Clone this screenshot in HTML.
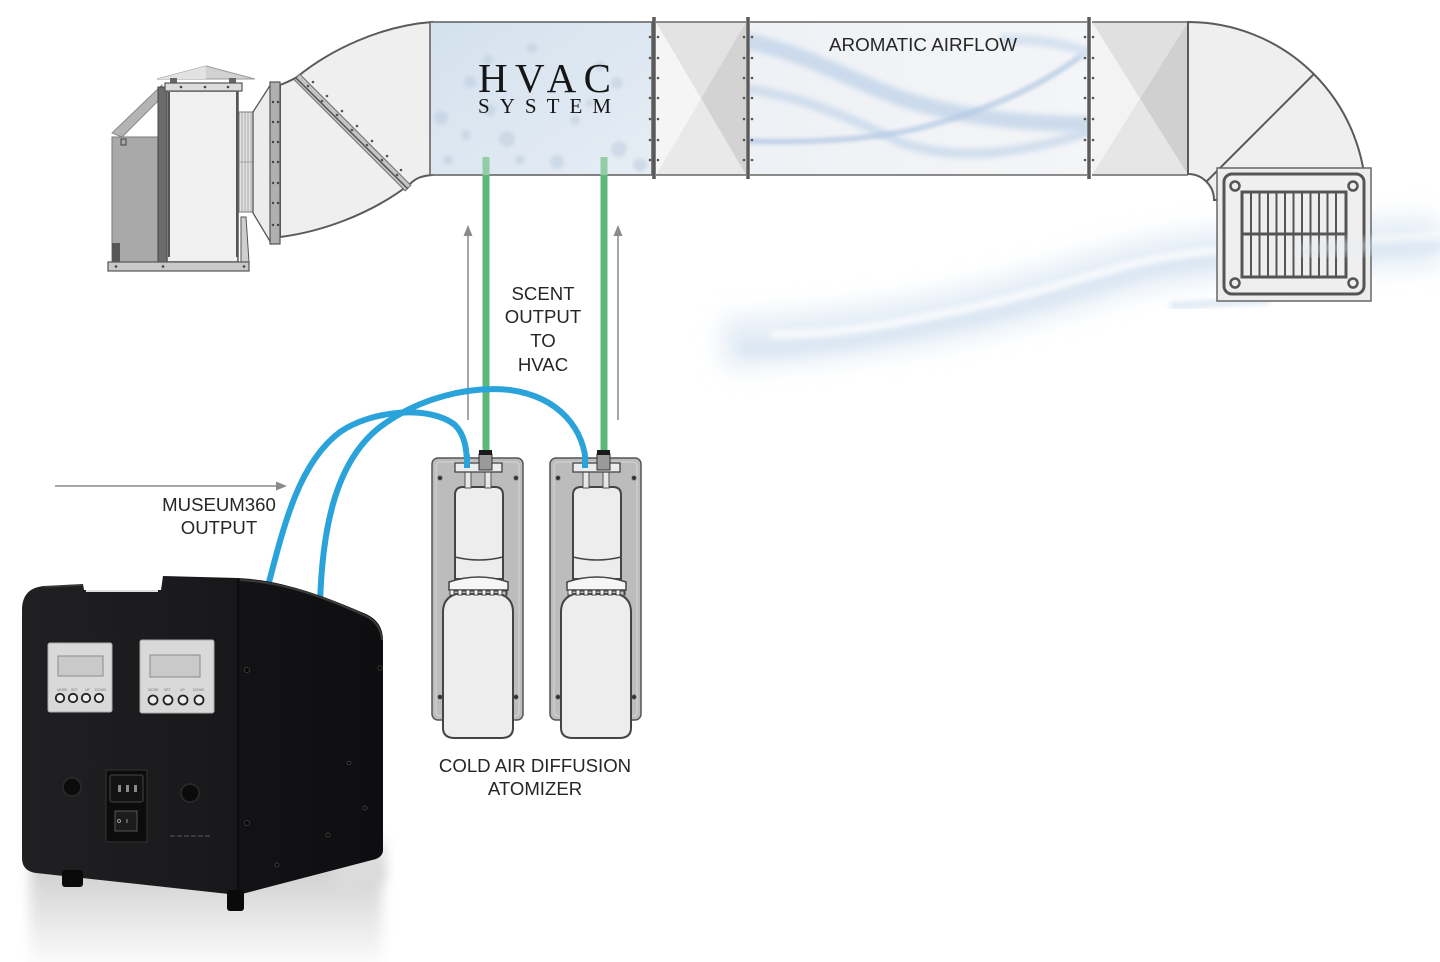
<!DOCTYPE html>
<html><head><meta charset="utf-8">
<style>
html,body{margin:0;padding:0;background:#fff;width:1440px;height:962px;overflow:hidden}
svg{display:block}
.lbl{font-family:"Liberation Sans",sans-serif;font-size:18.6px;fill:#262626}
</style></head><body>
<svg width="1440" height="962" viewBox="0 0 1440 962" xmlns="http://www.w3.org/2000/svg">
<defs>
 <filter id="b1" x="-10%" y="-10%" width="120%" height="120%"><feGaussianBlur stdDeviation="1.5"/></filter>
 <filter id="b3" x="-20%" y="-50%" width="140%" height="200%"><feGaussianBlur stdDeviation="3"/></filter>
 <filter id="b5" x="-20%" y="-100%" width="140%" height="300%"><feGaussianBlur stdDeviation="5"/></filter>
 <filter id="b12" x="-30%" y="-150%" width="160%" height="400%"><feGaussianBlur stdDeviation="12"/></filter>
 <filter id="b6" x="-20%" y="-30%" width="140%" height="160%"><feGaussianBlur stdDeviation="6"/></filter>
 <linearGradient id="hv" x1="0" y1="0" x2="1" y2="1"><stop offset="0" stop-color="#d3e1ee"/><stop offset="1" stop-color="#e6edf4"/></linearGradient>
 <linearGradient id="ar" x1="0" y1="0" x2="1" y2="0"><stop offset="0" stop-color="#eef1f5"/><stop offset="1" stop-color="#f4f5f7"/></linearGradient>
 <linearGradient id="front" x1="0" y1="0" x2="1" y2="0"><stop offset="0" stop-color="#202022"/><stop offset="1" stop-color="#18181a"/></linearGradient>
 <linearGradient id="side" x1="0" y1="0" x2="1" y2="0"><stop offset="0" stop-color="#131315"/><stop offset="1" stop-color="#0e0e10"/></linearGradient>
 <linearGradient id="refl" x1="0" y1="0" x2="0" y2="1"><stop offset="0" stop-color="#cdcdcd"/><stop offset="0.5" stop-color="#e6e6e6"/><stop offset="1" stop-color="#ffffff"/></linearGradient>
 <clipPath id="hvc"><rect x="430" y="22" width="222" height="153"/></clipPath>
 <clipPath id="arc"><rect x="750" y="22" width="337" height="153"/></clipPath>
</defs>

<!-- big aromatic wisp below grille -->
<g>
 <path d="M722,343 C800,340 870,330 930,320 C1020,303 1080,282 1130,268 C1200,252 1300,246 1440,242" fill="none" stroke="#e4edf6" stroke-width="50" filter="url(#b12)"/>
 <path d="M740,350 C820,350 880,336 940,325 C1030,308 1090,286 1140,272 C1210,256 1320,250 1440,246" fill="none" stroke="#d3e2f0" stroke-width="14" filter="url(#b5)" opacity="0.6"/>
 <path d="M770,334 C840,336 900,322 960,310 C1040,294 1100,270 1160,258 C1230,246 1330,242 1440,236" fill="none" stroke="#ffffff" stroke-width="7" filter="url(#b3)" opacity="0.8"/>
 <path d="M1170,306 C1200,304 1240,302 1270,300" fill="none" stroke="#dde8f2" stroke-width="7" filter="url(#b3)"/>
</g>

<!-- ===== LEFT UNIT ===== -->
<polygon points="157,79 206,66 255,79" fill="#d2d2d2" stroke="#999" stroke-width="1"/>
<polygon points="157,79 206,66 206,79" fill="#e2e2e2"/>
<rect x="170" y="78" width="7" height="6" fill="#666"/>
<rect x="229" y="78" width="7" height="6" fill="#666"/>
<polygon points="112,133 162,85 162,97 122,137" fill="#b4b4b4" stroke="#8a8a8a" stroke-width="1"/>
<rect x="112" y="137" width="47" height="125" fill="#a9a9a9" stroke="#7a7a7a" stroke-width="1"/>
<rect x="112" y="243" width="8" height="19" fill="#575757"/>
<rect x="121" y="139" width="5" height="6" fill="none" stroke="#444" stroke-width="1"/>
<rect x="158" y="87" width="9" height="175" fill="#6b6b6b" stroke="#444" stroke-width="1"/>
<rect x="167" y="91" width="71" height="171" fill="#f0f0f0" stroke="#555" stroke-width="1.5"/>
<line x1="169" y1="92" x2="169" y2="257" stroke="#555" stroke-width="2"/>
<line x1="237" y1="92" x2="237" y2="257" stroke="#555" stroke-width="2"/>
<rect x="165" y="83" width="77" height="8" fill="#dcdcdc" stroke="#555" stroke-width="1.2"/>
<circle cx="181" cy="87" r="1.3" fill="#444"/><circle cx="205" cy="87" r="1.3" fill="#444"/><circle cx="228" cy="87" r="1.3" fill="#444"/>
<polygon points="241,217 246,217 249,262 241,262" fill="#cfcfcf" stroke="#555" stroke-width="1"/>
<rect x="108" y="262" width="141" height="9" fill="#c9c9c9" stroke="#555" stroke-width="1.2"/>
<circle cx="116" cy="266.5" r="1.3" fill="#444"/><circle cx="163" cy="266.5" r="1.3" fill="#444"/><circle cx="244" cy="266.5" r="1.3" fill="#444"/>
<!-- bellows -->
<rect x="239" y="112" width="14" height="100" fill="#e3e3e3" stroke="#777" stroke-width="1"/>
<g stroke="#999" stroke-width="0.8"><line x1="242" y1="112" x2="242" y2="212"/><line x1="245" y1="112" x2="245" y2="212"/><line x1="248" y1="112" x2="248" y2="212"/><line x1="251" y1="112" x2="251" y2="212"/><line x1="239" y1="162" x2="253" y2="162"/></g>
<polygon points="253,112 271,84 271,243 253,213" fill="#ececec" stroke="#555" stroke-width="1.3"/>
<!-- left elbow -->
<path d="M280,85 C288,82 292,80 297,77 C330,50 380,26 432,22 L432,175 C420,176 415,179 410,184 C370,215 320,232 280,237 Z" fill="#efefef" stroke="#5a5a5a" stroke-width="2"/>
<polygon points="299.8,74.2 410.8,185.2 405.2,190.8 294.2,79.8" fill="#c4c4c4" stroke="#6a6a6a" stroke-width="1"/>
<line x1="296" y1="78" x2="408" y2="189" stroke="#555" stroke-width="1.5"/>
<g fill="#555">
<circle cx="308" cy="86" r="1.3"/><circle cx="322" cy="101" r="1.3"/><circle cx="337" cy="115" r="1.3"/><circle cx="352" cy="130" r="1.3"/><circle cx="367" cy="145" r="1.3"/><circle cx="382" cy="160" r="1.3"/><circle cx="397" cy="175" r="1.3"/>
<circle cx="313" cy="82" r="1.3"/><circle cx="327" cy="96" r="1.3"/><circle cx="342" cy="111" r="1.3"/><circle cx="357" cy="126" r="1.3"/><circle cx="372" cy="141" r="1.3"/><circle cx="387" cy="156" r="1.3"/><circle cx="401" cy="170" r="1.3"/>
</g>
<rect x="270" y="82" width="10" height="162" fill="#b0b0b0" stroke="#555" stroke-width="1.2"/>
<g fill="#444">
<circle cx="273" cy="102" r="1.2"/><circle cx="278" cy="102" r="1.2"/><circle cx="273" cy="122" r="1.2"/><circle cx="278" cy="122" r="1.2"/><circle cx="273" cy="142" r="1.2"/><circle cx="278" cy="142" r="1.2"/><circle cx="273" cy="162" r="1.2"/><circle cx="278" cy="162" r="1.2"/><circle cx="273" cy="183" r="1.2"/><circle cx="278" cy="183" r="1.2"/><circle cx="273" cy="203" r="1.2"/><circle cx="278" cy="203" r="1.2"/><circle cx="273" cy="225" r="1.2"/><circle cx="278" cy="225" r="1.2"/>
</g>

<!-- ===== HVAC SECTION ===== -->
<rect x="430" y="22" width="222" height="153" fill="url(#hv)"/>
<g clip-path="url(#hvc)" fill="#b7c7db" filter="url(#b1)" opacity="0.45">
 <circle cx="441" cy="118" r="7"/><circle cx="466" cy="135" r="5"/><circle cx="507" cy="139" r="8"/><circle cx="490" cy="110" r="6"/>
 <circle cx="557" cy="162" r="7"/><circle cx="619" cy="149" r="8"/><circle cx="617" cy="83" r="6"/><circle cx="600" cy="66" r="5"/>
 <circle cx="488" cy="60" r="5"/><circle cx="640" cy="165" r="7"/><circle cx="520" cy="160" r="5"/><circle cx="448" cy="160" r="5"/>
 <circle cx="532" cy="48" r="5"/><circle cx="575" cy="120" r="5"/><circle cx="470" cy="82" r="6"/><circle cx="590" cy="103" r="4"/>
</g>
<rect x="430" y="22" width="222" height="153" fill="none" stroke="#666" stroke-width="1.6"/>
<text x="478" y="92" font-family="'Liberation Serif',serif" font-size="41" fill="#161616" textLength="133" lengthAdjust="spacing">HVAC</text>
<text x="478" y="113" font-family="'Liberation Serif',serif" font-size="21" fill="#161616" textLength="133" lengthAdjust="spacing">SYSTEM</text>

<!-- ===== X PANEL 1 ===== -->
<polygon points="656,22 701,98.5 656,175" fill="#f5f5f5"/>
<polygon points="656,22 746,22 701,98.5" fill="#e3e3e3"/>
<polygon points="746,22 701,98.5 746,175" fill="#d3d3d3"/>
<polygon points="656,175 701,98.5 746,175" fill="#e9e9e9"/>
<line x1="656" y1="22" x2="746" y2="22" stroke="#666" stroke-width="1.6"/>
<line x1="656" y1="175" x2="746" y2="175" stroke="#666" stroke-width="1.6"/>

<!-- ===== AROMATIC SECTION ===== -->
<rect x="750" y="22" width="337" height="153" fill="url(#ar)"/>
<g clip-path="url(#arc)" fill="none">
 <path d="M740,40 C800,50 850,80 900,98 C960,118 1030,124 1095,124" stroke="#bcd0e8" stroke-width="16" filter="url(#b3)" opacity="0.7"/>
 <path d="M740,88 C800,95 850,118 900,142 C950,160 1010,158 1095,130" stroke="#c3d5ea" stroke-width="9" filter="url(#b3)" opacity="0.75"/>
 <path d="M740,141 C810,143 870,140 920,128 C980,112 1040,90 1095,45" stroke="#b2c9e4" stroke-width="6" filter="url(#b1)" opacity="0.7"/>
 <path d="M1000,40 C1040,38 1070,45 1095,55" stroke="#d6e2f0" stroke-width="10" filter="url(#b3)"/>
</g>
<line x1="750" y1="22" x2="1087" y2="22" stroke="#666" stroke-width="1.6"/>
<line x1="750" y1="175" x2="1087" y2="175" stroke="#666" stroke-width="1.6"/>
<text x="829" y="51" class="lbl" font-size="19" textLength="188" lengthAdjust="spacingAndGlyphs">AROMATIC AIRFLOW</text>

<!-- ===== X PANEL 2 ===== -->
<polygon points="1092,22 1140,98.5 1092,175" fill="#f3f3f3"/>
<polygon points="1092,22 1188,22 1140,98.5" fill="#e0e0e0"/>
<polygon points="1188,22 1140,98.5 1188,175" fill="#d0d0d0"/>
<polygon points="1092,175 1140,98.5 1188,175" fill="#e6e6e6"/>
<line x1="1092" y1="22" x2="1188" y2="22" stroke="#666" stroke-width="1.6"/>
<line x1="1092" y1="175" x2="1188" y2="175" stroke="#666" stroke-width="1.6"/>

<!-- ===== RIGHT ELBOW ===== -->
<path d="M1188,22 A178,178 0 0 1 1366,200 L1214,200 A26,26 0 0 0 1188,174 Z" fill="#efefef" stroke="#5a5a5a" stroke-width="2"/>
<line x1="1188" y1="22" x2="1188" y2="175" stroke="#5a5a5a" stroke-width="2"/>
<line x1="1206" y1="182" x2="1314" y2="74" stroke="#5a5a5a" stroke-width="2"/>

<!-- flanges -->
<g>
 <line x1="654" y1="17" x2="654" y2="179" stroke="#5a5a5a" stroke-width="3.5"/>
 <line x1="748" y1="17" x2="748" y2="179" stroke="#5a5a5a" stroke-width="3.5"/>
 <line x1="1089" y1="17" x2="1089" y2="179" stroke="#5a5a5a" stroke-width="3.5"/>
 <g fill="#555">
  <circle cx="650" cy="37" r="1.3"/><circle cx="658" cy="37" r="1.3"/><circle cx="650" cy="58" r="1.3"/><circle cx="658" cy="58" r="1.3"/><circle cx="650" cy="78" r="1.3"/><circle cx="658" cy="78" r="1.3"/><circle cx="650" cy="98" r="1.3"/><circle cx="658" cy="98" r="1.3"/><circle cx="650" cy="119" r="1.3"/><circle cx="658" cy="119" r="1.3"/><circle cx="650" cy="140" r="1.3"/><circle cx="658" cy="140" r="1.3"/><circle cx="650" cy="160" r="1.3"/><circle cx="658" cy="160" r="1.3"/>
  <circle cx="744" cy="37" r="1.3"/><circle cx="752" cy="37" r="1.3"/><circle cx="744" cy="58" r="1.3"/><circle cx="752" cy="58" r="1.3"/><circle cx="744" cy="78" r="1.3"/><circle cx="752" cy="78" r="1.3"/><circle cx="744" cy="98" r="1.3"/><circle cx="752" cy="98" r="1.3"/><circle cx="744" cy="119" r="1.3"/><circle cx="752" cy="119" r="1.3"/><circle cx="744" cy="140" r="1.3"/><circle cx="752" cy="140" r="1.3"/><circle cx="744" cy="160" r="1.3"/><circle cx="752" cy="160" r="1.3"/>
  <circle cx="1085" cy="37" r="1.3"/><circle cx="1093" cy="37" r="1.3"/><circle cx="1085" cy="58" r="1.3"/><circle cx="1093" cy="58" r="1.3"/><circle cx="1085" cy="78" r="1.3"/><circle cx="1093" cy="78" r="1.3"/><circle cx="1085" cy="98" r="1.3"/><circle cx="1093" cy="98" r="1.3"/><circle cx="1085" cy="119" r="1.3"/><circle cx="1093" cy="119" r="1.3"/><circle cx="1085" cy="140" r="1.3"/><circle cx="1093" cy="140" r="1.3"/><circle cx="1085" cy="160" r="1.3"/><circle cx="1093" cy="160" r="1.3"/>
 </g>
</g>

<!-- ===== GRILLE ===== -->
<rect x="1217" y="168" width="154" height="133" fill="#ededed" stroke="#666" stroke-width="1.5"/>
<rect x="1224" y="174" width="140" height="120" rx="8" fill="#efefef" stroke="#555" stroke-width="3"/>
<g fill="none" stroke="#555" stroke-width="2.5">
 <circle cx="1235" cy="186" r="4.5"/><circle cx="1353" cy="186" r="4.5"/><circle cx="1235" cy="283" r="4.5"/><circle cx="1353" cy="283" r="4.5"/>
</g>
<rect x="1242" y="192" width="104" height="85" fill="#eeeeee" stroke="#555" stroke-width="3"/>
<line x1="1242" y1="234" x2="1346" y2="234" stroke="#555" stroke-width="3"/>
<g stroke="#555" stroke-width="2">
 <line x1="1251" y1="193" x2="1251" y2="233"/><line x1="1259.5" y1="193" x2="1259.5" y2="233"/><line x1="1268" y1="193" x2="1268" y2="233"/><line x1="1276.5" y1="193" x2="1276.5" y2="233"/><line x1="1285" y1="193" x2="1285" y2="233"/><line x1="1293.5" y1="193" x2="1293.5" y2="233"/><line x1="1302" y1="193" x2="1302" y2="233"/><line x1="1310.5" y1="193" x2="1310.5" y2="233"/><line x1="1319" y1="193" x2="1319" y2="233"/><line x1="1327.5" y1="193" x2="1327.5" y2="233"/><line x1="1336" y1="193" x2="1336" y2="233"/>
 <line x1="1251" y1="235" x2="1251" y2="276"/><line x1="1259.5" y1="235" x2="1259.5" y2="276"/><line x1="1268" y1="235" x2="1268" y2="276"/><line x1="1276.5" y1="235" x2="1276.5" y2="276"/><line x1="1285" y1="235" x2="1285" y2="276"/><line x1="1293.5" y1="235" x2="1293.5" y2="276"/><line x1="1302" y1="235" x2="1302" y2="276"/><line x1="1310.5" y1="235" x2="1310.5" y2="276"/><line x1="1319" y1="235" x2="1319" y2="276"/><line x1="1327.5" y1="235" x2="1327.5" y2="276"/><line x1="1336" y1="235" x2="1336" y2="276"/>
</g>
<path d="M1300,250 C1360,246 1400,244 1440,242" fill="none" stroke="#e3ecf5" stroke-width="14" filter="url(#b5)" opacity="0.45"/>

<!-- ===== GREEN TUBES ===== -->
<line x1="486" y1="157" x2="486" y2="175" stroke="#93cda6" stroke-width="7"/>
<line x1="486" y1="175" x2="486" y2="454" stroke="#5cb87a" stroke-width="7"/>
<line x1="604" y1="157" x2="604" y2="175" stroke="#93cda6" stroke-width="7"/>
<line x1="604" y1="175" x2="604" y2="454" stroke="#5cb87a" stroke-width="7"/>

<!-- arrows -->
<g stroke="#8a8a8a" stroke-width="1.5" fill="#8a8a8a">
 <line x1="468" y1="232" x2="468" y2="420"/><polygon points="463.5,236 468,225 472.5,236" stroke="none"/>
 <line x1="618" y1="232" x2="618" y2="420"/><polygon points="613.5,236 618,225 622.5,236" stroke="none"/>
 <line x1="55" y1="486" x2="278" y2="486"/><polygon points="276,481.5 287,486 276,490.5" stroke="none"/>
</g>

<!-- labels -->
<g class="lbl" text-anchor="middle">
 <text x="543" y="300" class="lbl">SCENT</text>
 <text x="543" y="323" class="lbl">OUTPUT</text>
 <text x="543" y="347" class="lbl">TO</text>
 <text x="543" y="371" class="lbl">HVAC</text>
 <text x="219" y="511" class="lbl">MUSEUM360</text>
 <text x="219" y="534" class="lbl">OUTPUT</text>
 <text x="535" y="772" class="lbl">COLD AIR DIFFUSION</text>
 <text x="535" y="795" class="lbl">ATOMIZER</text>
</g>

<!-- reflection under box -->
<rect x="30" y="862" width="352" height="110" fill="url(#refl)" filter="url(#b6)"/>
<path d="M330,860 L385,840 L385,880 L340,895 Z" fill="#dcdcdc" filter="url(#b6)"/>

<!-- ===== BLUE TUBES ===== -->
<g fill="none" stroke="#2aa2da" stroke-width="6" stroke-linecap="round">
 <path d="M267,590 C285,520 300,462 340,432 C372,410 430,405 455,425 C465,435 467,450 467,466"/>
 <path d="M320,605 C322,530 335,462 380,427 C420,397 470,386 510,390 C560,397 585,430 586,466"/>
</g>

<!-- ===== ATOMIZERS ===== -->
<g>
 <rect x="432" y="458" width="91" height="262" rx="6" fill="#bcbcbc" stroke="#555" stroke-width="1.5"/>
 <rect x="436" y="462" width="83" height="254" rx="4" fill="none" stroke="#d6d6d6" stroke-width="1"/>
 <g fill="#333" stroke="#9a9a9a" stroke-width="1"><circle cx="440" cy="478" r="2.5"/><circle cx="516" cy="478" r="2.5"/><circle cx="440" cy="697" r="2.5"/><circle cx="516" cy="697" r="2.5"/></g>
 <path d="M443,728 L443,612 Q443,598 456,594 L500,594 Q513,598 513,612 L513,728 Q513,738 501,738 L455,738 Q443,738 443,728 Z" fill="#ededed" stroke="#444" stroke-width="2"/>
 <path d="M455,579 L455,495 Q455,487 463,487 L495,487 Q503,487 503,495 L503,579 Z" fill="#ededed" stroke="#444" stroke-width="2"/>
 <path d="M455,557 Q479,563 503,557" fill="none" stroke="#444" stroke-width="1.5"/>
 <path d="M449,590 L449,582 Q479,572 508,582 L508,590 Z" fill="#f6f6f6" stroke="#444" stroke-width="1.5"/>
 <path d="M450,590 L450,595 L454,595 L454,591 L458,591 L458,595 L462,595 L462,591 L466,591 L466,595 L470,595 L470,591 L474,591 L474,595 L478,595 L478,591 L482,591 L482,595 L486,595 L486,591 L490,591 L490,595 L494,595 L494,591 L498,591 L498,595 L502,595 L502,591 L506,591 L506,595 L507,595 L507,590 Z" fill="#f6f6f6" stroke="#444" stroke-width="1"/>
 <rect x="465" y="472" width="6" height="16" fill="#e8e8e8" stroke="#555" stroke-width="1"/>
 <rect x="485" y="472" width="6" height="16" fill="#e8e8e8" stroke="#555" stroke-width="1"/>
 <rect x="455" y="463" width="47" height="9" fill="#ececec" stroke="#444" stroke-width="1.3"/>
 <rect x="479" y="454" width="13" height="16" fill="#9a9a9a" stroke="#333" stroke-width="1"/>
 <rect x="479" y="450" width="13" height="5" fill="#1a1a1a"/>
</g>
<g transform="translate(118,0)">
 <rect x="432" y="458" width="91" height="262" rx="6" fill="#bcbcbc" stroke="#555" stroke-width="1.5"/>
 <rect x="436" y="462" width="83" height="254" rx="4" fill="none" stroke="#d6d6d6" stroke-width="1"/>
 <g fill="#333" stroke="#9a9a9a" stroke-width="1"><circle cx="440" cy="478" r="2.5"/><circle cx="516" cy="478" r="2.5"/><circle cx="440" cy="697" r="2.5"/><circle cx="516" cy="697" r="2.5"/></g>
 <path d="M443,728 L443,612 Q443,598 456,594 L500,594 Q513,598 513,612 L513,728 Q513,738 501,738 L455,738 Q443,738 443,728 Z" fill="#ededed" stroke="#444" stroke-width="2"/>
 <path d="M455,579 L455,495 Q455,487 463,487 L495,487 Q503,487 503,495 L503,579 Z" fill="#ededed" stroke="#444" stroke-width="2"/>
 <path d="M455,557 Q479,563 503,557" fill="none" stroke="#444" stroke-width="1.5"/>
 <path d="M449,590 L449,582 Q479,572 508,582 L508,590 Z" fill="#f6f6f6" stroke="#444" stroke-width="1.5"/>
 <path d="M450,590 L450,595 L454,595 L454,591 L458,591 L458,595 L462,595 L462,591 L466,591 L466,595 L470,595 L470,591 L474,591 L474,595 L478,595 L478,591 L482,591 L482,595 L486,595 L486,591 L490,591 L490,595 L494,595 L494,591 L498,591 L498,595 L502,595 L502,591 L506,591 L506,595 L507,595 L507,590 Z" fill="#f6f6f6" stroke="#444" stroke-width="1"/>
 <rect x="465" y="472" width="6" height="16" fill="#e8e8e8" stroke="#555" stroke-width="1"/>
 <rect x="485" y="472" width="6" height="16" fill="#e8e8e8" stroke="#555" stroke-width="1"/>
 <rect x="455" y="463" width="47" height="9" fill="#ececec" stroke="#444" stroke-width="1.3"/>
 <rect x="479" y="454" width="13" height="16" fill="#9a9a9a" stroke="#333" stroke-width="1"/>
 <rect x="479" y="450" width="13" height="5" fill="#1a1a1a"/>
</g>
<line x1="467" y1="455" x2="467" y2="468" stroke="#2aa2da" stroke-width="6"/>
<line x1="585" y1="455" x2="585" y2="468" stroke="#2aa2da" stroke-width="6"/>

<!-- ===== BLACK BOX ===== -->
<path d="M238,578 C280,580 320,594 366,614 Q383,622 383,640 L383,850 Q383,856 376,859 L238,895 Z" fill="url(#side)"/>
<path d="M22,610 Q22,588 44,586 L83,584 L84,590 L161,590 L163,576 L238,578 L238,895 L36,873 Q22,871 22,858 Z" fill="url(#front)"/>
<path d="M240,580 C282,582 322,596 366,616 Q381,624 382,640" fill="none" stroke="#3a3a3a" stroke-width="2"/>
<path d="M44,587 L83,585" stroke="#3a3a3a" stroke-width="1.5"/>
<line x1="86" y1="591" x2="158" y2="591" stroke="#e0e0e0" stroke-width="2"/>
<line x1="238" y1="580" x2="238" y2="893" stroke="#0a0a0a" stroke-width="1.5"/>
<rect x="62" y="870" width="21" height="17" rx="3" fill="#0a0a0a"/>
<rect x="227" y="890" width="17" height="21" rx="3" fill="#0a0a0a"/>
<g fill="#050505" stroke="#3a3a3a" stroke-width="1">
 <circle cx="247" cy="670" r="2.5"/><circle cx="380" cy="668" r="2.2"/><circle cx="247" cy="823" r="2.5"/><circle cx="365" cy="808" r="2"/><circle cx="328" cy="835" r="2"/><circle cx="277" cy="865" r="2"/><circle cx="349" cy="763" r="1.8"/>
</g>
<!-- display 1 -->
<rect x="48" y="643" width="64" height="69" rx="2" fill="#d9d9d9" stroke="#aaa" stroke-width="1"/>
<rect x="58" y="656" width="45" height="20" fill="#c9c9c9" stroke="#8a8a8a" stroke-width="1"/>
<g font-family="'Liberation Sans',sans-serif" font-size="3.5" fill="#777"><text x="57" y="691">MODE</text><text x="71" y="691">SET</text><text x="85" y="691">UP</text><text x="95" y="691">DOWN</text></g>
<g fill="#eee" stroke="#222" stroke-width="1.8"><circle cx="60" cy="698" r="4.2"/><circle cx="73" cy="698" r="4.2"/><circle cx="86" cy="698" r="4.2"/><circle cx="99" cy="698" r="4.2"/></g>
<!-- display 2 -->
<rect x="140" y="640" width="74" height="73" rx="2" fill="#d9d9d9" stroke="#aaa" stroke-width="1"/>
<rect x="150" y="655" width="50" height="22" fill="#c9c9c9" stroke="#8a8a8a" stroke-width="1"/>
<g font-family="'Liberation Sans',sans-serif" font-size="3.5" fill="#777"><text x="148" y="691">MODE</text><text x="164" y="691">SET</text><text x="180" y="691">UP</text><text x="193" y="691">DOWN</text></g>
<g fill="#eee" stroke="#222" stroke-width="1.8"><circle cx="153" cy="700" r="4.5"/><circle cx="168" cy="700" r="4.5"/><circle cx="183" cy="700" r="4.5"/><circle cx="199" cy="700" r="4.5"/></g>
<!-- switches -->
<circle cx="72" cy="787" r="9" fill="#0b0b0b" stroke="#2c2c2c" stroke-width="1.5"/>
<circle cx="190" cy="793" r="9" fill="#0b0b0b" stroke="#2c2c2c" stroke-width="1.5"/>
<!-- power socket -->
<rect x="106" y="770" width="41" height="72" fill="#0c0c0c" stroke="#2e2e2e" stroke-width="1.2"/>
<rect x="110" y="775" width="33" height="27" rx="2" fill="#121212" stroke="#454545" stroke-width="1"/>
<rect x="118" y="785" width="3" height="7" fill="#888"/><rect x="126" y="785" width="3" height="7" fill="#888"/><rect x="134" y="785" width="3" height="7" fill="#888"/>
<rect x="115" y="811" width="22" height="20" fill="#1c1c1c" stroke="#555" stroke-width="1"/>
<circle cx="119" cy="821" r="1.5" fill="none" stroke="#bbb" stroke-width="0.8"/><line x1="127" y1="819" x2="127" y2="823" stroke="#bbb" stroke-width="0.8"/>
<g fill="#3a3a3a"><rect x="170" y="835" width="5" height="2"/><rect x="177" y="835" width="5" height="2"/><rect x="184" y="835" width="5" height="2"/><rect x="191" y="835" width="5" height="2"/><rect x="198" y="835" width="5" height="2"/><rect x="205" y="835" width="5" height="2"/></g>
</svg>
</body></html>
